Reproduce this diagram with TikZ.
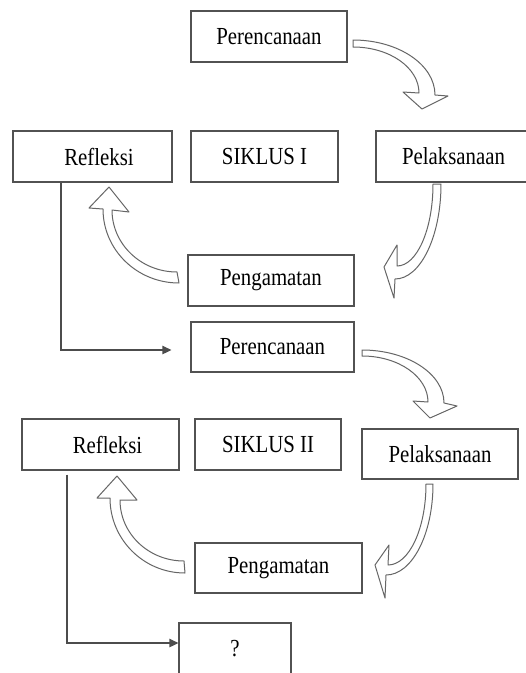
\documentclass[tikz,border=0pt]{standalone}
\usepackage{fontspec}
\setmainfont{Liberation Serif}[FakeStretch=0.85]
\usetikzlibrary{arrows.meta}
\begin{document}
\begin{tikzpicture}[x=1pt,y=-1pt,
  box/.style={draw=black!68, line width=1.3pt, rectangle, inner sep=0pt,
    minimum height=51pt, font=\fontsize{24.5}{29}\selectfont, text=black},
  conn/.style={draw=black!70, line width=1.3pt, -{Triangle[length=9pt,width=8.5pt]}},
  blockarrow/.style={draw=black!60, line width=1pt, fill=white, line join=round}]
\clip (0,0) rectangle (526,673);
\fill[white] (0,0) rectangle (526,673);

% cycle I
\node[box, minimum width=156pt] (per1) at (269,36.5) {Perencanaan};
\node[box, minimum width=159pt] (ref1) at (92.5,156.5) {\hspace*{13pt}Refleksi};
\node[box, minimum width=147pt] (sik1) at (264.5,156.5) {SIKLUS I};
\node[box, minimum width=155pt] (pel1) at (453.5,156.5) {Pelaksanaan};
\node[box, minimum width=166pt] (pen1) at (271,280.5) {Pengamatan};

% cycle II
\node[box, minimum width=163pt, minimum height=50pt] (per2) at (272.5,347) {Perencanaan};
\node[box, minimum width=157pt] (ref2) at (100.5,444.5) {\hspace*{14pt}Refleksi};
\node[box, minimum width=146pt] (sik2) at (268,444.5) {SIKLUS II};
\node[box, minimum width=156pt, minimum height=50pt] (pel2) at (440,454) {Pelaksanaan};
\node[box, minimum width=167pt, minimum height=50pt] (pen2) at (278.5,568) {Pengamatan};
\node[box, minimum width=112pt] (q) at (235,648.5) {?};

% block arrows, cycle I
\draw[blockarrow] (353,40) .. controls (398.3,40) and (435,64.6) .. (435,95)
  -- (448,96) -- (422,109) -- (403,92) -- (419,93)
  .. controls (419,67.6) and (389.5,47) .. (353,47) -- cycle;
\draw[blockarrow] (433,184) -- (441,184) .. controls (441,236.5) and (420.4,279) .. (395,279)
  -- (394,298) -- (384,267) -- (397,245) -- (397,266)
  .. controls (416.9,266) and (433,229.3) .. (433,184) -- cycle;
\draw[blockarrow] (109,187) -- (89,208) -- (103,209)
  .. controls (103,249.9) and (137,283) .. (179,283) -- (177,272)
  .. controls (141.1,272) and (112,244.2) .. (112,210) -- (129,212) -- cycle;

% block arrows, cycle II
\draw[blockarrow] (362,350) .. controls (407.3,350) and (444,373.7) .. (444,403)
  -- (457,406) -- (430,418) -- (413,401) -- (428,402)
  .. controls (428,376.6) and (398.5,356) .. (362,356) -- cycle;
\draw[blockarrow] (426,484) -- (433,484) .. controls (433,534.3) and (412,575) .. (386,575)
  -- (385,598) -- (375,565) -- (389,545) -- (388,565)
  .. controls (409,565) and (426,528.7) .. (426,484) -- cycle;
\draw[blockarrow] (117,476) -- (97,498) -- (110,498)
  .. controls (110,539.4) and (143.6,573) .. (185,573) -- (184,561)
  .. controls (148.7,561) and (120,533.7) .. (120,500) -- (137,500) -- cycle;

% connectors
\draw[conn] ([xshift=-31.5pt]ref1.south) |- ([xshift=-19pt,yshift=-3pt]per2.west);
\draw[conn] ([xshift=-33.5pt,yshift=-4pt]ref2.south) |- ([yshift=5.5pt]q.west);
\end{tikzpicture}
\end{document}
